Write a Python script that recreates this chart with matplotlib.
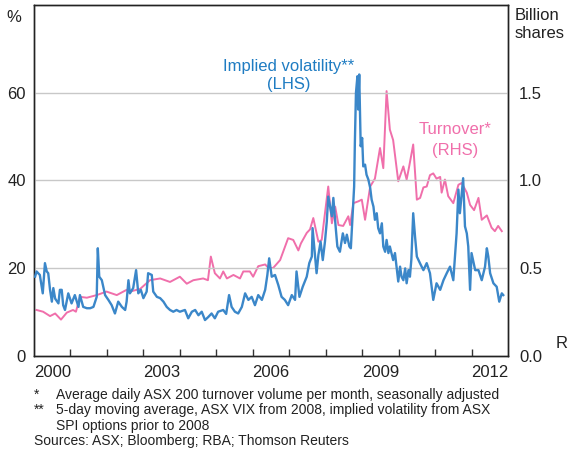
import matplotlib
matplotlib.use("Agg")
import matplotlib.pyplot as plt
from matplotlib.ticker import FixedLocator, NullFormatter, FixedFormatter

plt.rcParams['font.family'] = ['Liberation Sans', 'DejaVu Sans']

# Implied volatility (%, LHS) - decimal years / values
vol_dates = [2000.03, 2000.07, 2000.16, 2000.24, 2000.30, 2000.35, 2000.39, 2000.44, 2000.49, 2000.53,
             2000.58, 2000.67, 2000.71, 2000.76, 2000.80, 2000.85, 2000.94, 2001.03, 2001.12, 2001.22,
             2001.26, 2001.35, 2001.45, 2001.54, 2001.63, 2001.72, 2001.75, 2001.79, 2001.86, 2001.95,
             2002.04, 2002.13, 2002.22, 2002.31, 2002.41, 2002.50, 2002.54, 2002.59, 2002.63, 2002.72,
             2002.80, 2002.86, 2002.93, 2003.00, 2003.09, 2003.13, 2003.23, 2003.27, 2003.37, 2003.46,
             2003.55, 2003.64, 2003.73, 2003.82, 2003.91, 2004.00, 2004.14, 2004.23, 2004.33, 2004.42,
             2004.51, 2004.60, 2004.69, 2004.78, 2004.87, 2004.96, 2005.05, 2005.19, 2005.27, 2005.35,
             2005.42, 2005.51, 2005.60, 2005.70, 2005.79, 2005.88, 2005.97, 2006.06, 2006.15, 2006.25,
             2006.34, 2006.40, 2006.45, 2006.52, 2006.61, 2006.70, 2006.79, 2006.88, 2006.97, 2007.07,
             2007.16, 2007.20, 2007.28, 2007.37, 2007.48, 2007.55, 2007.62, 2007.64, 2007.71, 2007.75,
             2007.80, 2007.86, 2007.92, 2007.98, 2008.03, 2008.07, 2008.12, 2008.17, 2008.21, 2008.28,
             2008.32, 2008.39, 2008.47, 2008.53, 2008.58, 2008.65, 2008.69, 2008.74, 2008.78, 2008.80,
             2008.83, 2008.87, 2008.89, 2008.92, 2008.96, 2009.00, 2009.03, 2009.08, 2009.12, 2009.17,
             2009.22, 2009.26, 2009.31, 2009.35, 2009.40, 2009.44, 2009.49, 2009.54, 2009.58, 2009.63,
             2009.67, 2009.72, 2009.76, 2009.85, 2009.90, 2009.99, 2010.04, 2010.08, 2010.13, 2010.18,
             2010.22, 2010.27, 2010.31, 2010.35, 2010.40, 2010.45, 2010.50, 2010.59, 2010.68, 2010.77,
             2010.86, 2010.95, 2011.04, 2011.14, 2011.23, 2011.32, 2011.41, 2011.50, 2011.59, 2011.64,
             2011.68, 2011.77, 2011.82, 2011.87, 2011.91, 2011.96, 2012.00, 2012.10, 2012.19, 2012.28,
             2012.37, 2012.42, 2012.46, 2012.51, 2012.60, 2012.69, 2012.76, 2012.83, 2012.87]
vol_values = [18.0, 19.2, 18.4, 14.2, 21.1, 19.2, 18.8, 15.0, 12.3, 15.4,
              13.0, 11.9, 15.0, 15.0, 11.5, 10.4, 14.2, 11.9, 13.8, 11.1,
              13.8, 11.1, 10.8, 10.8, 11.1, 13.4, 24.5, 18.0, 17.2, 13.8,
              12.7, 11.5, 9.6, 12.3, 11.1, 10.4, 12.3, 17.2, 14.2, 15.4,
              19.5, 14.2, 15.0, 13.1, 14.6, 18.8, 18.4, 14.6, 13.4, 13.1,
              12.3, 11.1, 10.4, 10.0, 10.4, 10.0, 10.4, 8.5, 10.0, 10.4,
              9.2, 10.0, 8.1, 8.8, 9.6, 8.5, 10.0, 10.4, 9.5, 13.8,
              11.1, 10.0, 9.6, 11.1, 14.2, 12.7, 13.4, 11.5, 13.8, 12.7,
              15.0, 18.4, 22.2, 18.0, 18.4, 16.1, 13.4, 12.7, 11.5, 13.8,
              12.7, 19.2, 13.4, 15.7, 18.0, 21.1, 22.6, 29.1, 22.6, 18.8,
              23.0, 26.0, 21.8, 26.0, 30.6, 36.3, 34.0, 31.8, 36.0, 28.7,
              24.9, 23.7, 27.9, 25.7, 27.6, 24.9, 24.5, 32.1, 38.6, 48.6,
              60.0, 63.8, 56.2, 64.2, 47.8, 49.7, 43.2, 43.6, 41.3, 40.2,
              38.3, 35.6, 34.0, 31.0, 32.5, 29.1, 27.9, 30.2, 24.9, 23.7,
              26.4, 23.4, 24.9, 21.8, 23.4, 16.9, 20.3, 18.0, 17.2, 19.9,
              16.5, 19.5, 18.0, 22.0, 32.5, 27.2, 22.6, 21.0, 19.5, 21.1,
              18.8, 12.7, 16.5, 15.0, 17.2, 18.8, 20.3, 17.2, 27.9, 37.9,
              32.5, 40.5, 29.5, 27.9, 24.9, 15.0, 23.4, 19.5, 19.5, 17.2,
              20.3, 24.5, 22.6, 18.8, 16.5, 15.7, 12.3, 14.2, 13.8]

# Turnover (billion shares, RHS)
turn_dates = [2000.07, 2000.25, 2000.44, 2000.58, 2000.74, 2000.90, 2001.07, 2001.15, 2001.26, 2001.45,
              2001.72, 2001.99, 2002.27, 2002.54, 2002.63, 2002.91, 2003.18, 2003.46, 2003.73, 2004.00,
              2004.19, 2004.37, 2004.64, 2004.77, 2004.85, 2004.96, 2005.10, 2005.19, 2005.29, 2005.47,
              2005.65, 2005.74, 2005.92, 2006.01, 2006.15, 2006.34, 2006.43, 2006.56, 2006.75, 2006.97,
              2007.11, 2007.25, 2007.32, 2007.48, 2007.57, 2007.66, 2007.80, 2007.89, 2008.07, 2008.17,
              2008.26, 2008.35, 2008.48, 2008.62, 2008.67, 2008.76, 2008.89, 2008.99, 2009.08, 2009.22,
              2009.35, 2009.49, 2009.58, 2009.67, 2009.76, 2009.85, 2009.99, 2010.13, 2010.22, 2010.29,
              2010.40, 2010.50, 2010.59, 2010.68, 2010.77, 2010.86, 2010.95, 2011.04, 2011.14, 2011.18,
              2011.27, 2011.36, 2011.50, 2011.64, 2011.73, 2011.87, 2011.96, 2012.07, 2012.19, 2012.28,
              2012.42, 2012.55, 2012.64, 2012.73, 2012.83]
turn_values = [0.26, 0.25, 0.225, 0.24, 0.205, 0.245, 0.26, 0.25, 0.335, 0.33,
               0.345, 0.365, 0.345, 0.375, 0.365, 0.38, 0.43, 0.44, 0.42, 0.45,
               0.41, 0.43, 0.44, 0.43, 0.565, 0.47, 0.44, 0.48, 0.44, 0.46,
               0.44, 0.48, 0.48, 0.45, 0.51, 0.52, 0.50, 0.50, 0.545, 0.67,
               0.66, 0.60, 0.64, 0.70, 0.72, 0.785, 0.65, 0.66, 0.965, 0.755,
               0.85, 0.745, 0.74, 0.795, 0.745, 0.87, 0.88, 0.89, 0.775, 0.965,
               1.01, 1.185, 1.07, 1.51, 1.29, 1.23, 0.995, 1.08, 1.005, 1.08,
               1.205, 0.89, 0.90, 0.96, 0.965, 1.03, 1.04, 1.01, 1.02, 0.93,
               1.005, 0.91, 0.87, 0.975, 0.985, 0.93, 0.86, 0.83, 0.90, 0.775,
               0.80, 0.73, 0.71, 0.74, 0.71]

year_labels = ['2000', '2003', '2006', '2009', '2012']
left_ticks = [0, 20, 40, 60]
right_ticks = [0.0, 0.5, 1.0, 1.5]

BLUE = '#3b87c9'
BLUE_TXT = '#1f7cc2'
PINK = '#f06fab'
GRID = '#c8c8c8'

W, H = 568, 453
fig = plt.figure(figsize=(W / 100, H / 100), dpi=100)
ax = fig.add_axes([34 / W, 1 - 355.5 / H, 474 / W, 350.2 / H])
ax2 = ax.twinx()

ax.set_xlim(2000, 2013)
ax.set_ylim(0, 80)
ax2.set_ylim(0, 2.0)

for g in left_ticks[1:]:
    ax.axhline(g, color=GRID, lw=1.0, zorder=0)

ax2.plot(turn_dates, turn_values, color=PINK, lw=1.4, zorder=2)
ax.plot(vol_dates, vol_values, color=BLUE, lw=1.7, zorder=3)
ax.set_zorder(ax2.get_zorder() + 1)
ax.patch.set_visible(False)

# x ticks: marks at year boundaries, labels centered in the year
ax.xaxis.set_major_locator(FixedLocator(list(range(2001, 2013))))
ax.xaxis.set_major_formatter(NullFormatter())
ax.xaxis.set_minor_locator(FixedLocator([int(y) + 0.5 for y in year_labels]))
ax.xaxis.set_minor_formatter(FixedFormatter(year_labels))
ax.tick_params(axis='x', which='major', direction='in', length=5, width=1, color='#333333')
ax.tick_params(axis='x', which='minor', length=0, pad=7, labelsize=12, labelcolor='#222222')

ax.set_yticks(left_ticks)
ax.set_yticklabels([str(v) for v in left_ticks])
ax.tick_params(axis='y', length=0, pad=6, labelsize=12, labelcolor='#222222')
ax2.set_yticks(right_ticks)
ax2.set_yticklabels([f'{v:.1f}' for v in right_ticks])
ax2.tick_params(axis='y', length=0, pad=8, labelsize=12, labelcolor='#222222')

for a in (ax, ax2):
    for s in a.spines.values():
        s.set_color('#222222')
        s.set_linewidth(1.0)

def fx(px):
    return px / W

def fy(py):
    return 1 - py / H

fig.text(fx(14), fy(17), '%', ha='center', va='center', fontsize=12, color='#222222')
fig.text(fx(515), fy(15), 'Billion', ha='left', va='center', fontsize=12, color='#222222')
fig.text(fx(515), fy(33), 'shares', ha='left', va='center', fontsize=12, color='#222222')
fig.text(fx(556), fy(344), 'R', ha='left', va='center', fontsize=12, color='#222222')

fig.text(fx(289), fy(66), 'Implied volatility**', ha='center', va='center', fontsize=12, color=BLUE_TXT)
fig.text(fx(289), fy(85), '(LHS)', ha='center', va='center', fontsize=12, color=BLUE_TXT)
fig.text(fx(455), fy(130), 'Turnover*', ha='center', va='center', fontsize=12, color=PINK)
fig.text(fx(455), fy(151), '(RHS)', ha='center', va='center', fontsize=12, color=PINK)

fs = 10
fig.text(fx(34), fy(395), '*', ha='left', va='center', fontsize=fs, color='#222222')
fig.text(fx(56), fy(395), 'Average daily ASX 200 turnover volume per month, seasonally adjusted',
         ha='left', va='center', fontsize=fs, color='#222222')
fig.text(fx(34), fy(410), '**', ha='left', va='center', fontsize=fs, color='#222222')
fig.text(fx(56), fy(410), '5-day moving average, ASX VIX from 2008, implied volatility from ASX',
         ha='left', va='center', fontsize=fs, color='#222222')
fig.text(fx(56), fy(426), 'SPI options prior to 2008', ha='left', va='center', fontsize=fs, color='#222222')
fig.text(fx(34), fy(441), 'Sources: ASX; Bloomberg; RBA; Thomson Reuters', ha='left', va='center',
         fontsize=fs, color='#222222')

fig.savefig('out.png', dpi=100)
